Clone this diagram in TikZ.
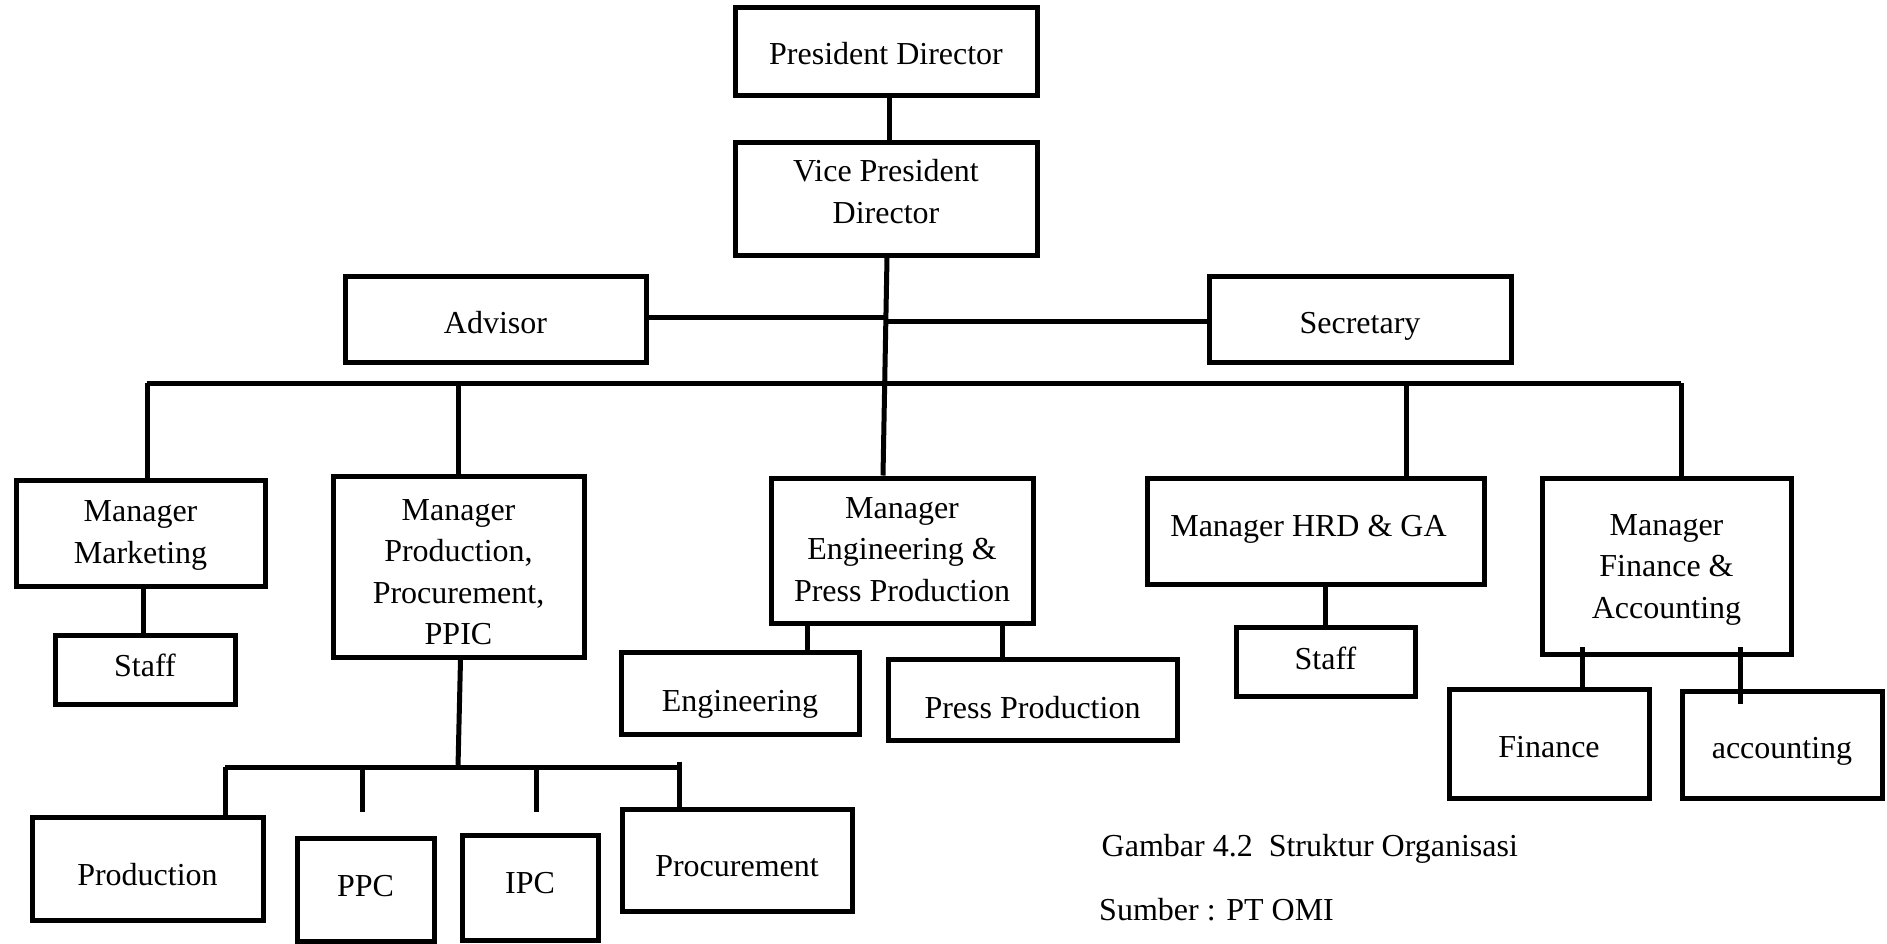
\documentclass[tikz,border=0pt]{standalone}
\usepackage{fontspec}
\setmainfont{Liberation Serif}
\newcommand{\tx}[2]{\raisebox{-#1pt}[\height][\depth]{\begin{tabular}{@{}c@{}}#2\end{tabular}}}
\begin{document}
\begin{tikzpicture}[x=1pt,y=-1pt,
  box/.style={draw=black, line width=5pt, rectangle, inner sep=0pt,
    font=\fontsize{32}{41.5}\selectfont},
  conn/.style={line width=5pt, draw=black},
  captxt/.style={anchor=base west, inner sep=0pt, font=\fontsize{32}{41.5}\selectfont}]
\useasboundingbox (0,0) rectangle (1887,943);

% nodes
\node[box, minimum width=302, minimum height=88] (pd) at (886,51) {\tx{5}{President Director}};
\node[box, minimum width=302, minimum height=113] (vp) at (886,198.5) {\tx{-4.3}{Vice President\\Director}};
\node[box, minimum width=301, minimum height=86] (adv) at (495.5,319) {\tx{6}{Advisor}};
\node[box, minimum width=302, minimum height=86] (sec) at (1360,319) {\tx{6}{Secretary}};

\node[box, minimum width=249, minimum height=106] (mm) at (140.5,533) {\tx{1}{Manager\\Marketing}};
\node[box, minimum width=251, minimum height=181] (mp) at (458.5,566.5) {\tx{7.5}{Manager\\Production,\\Procurement,\\PPIC}};
\node[box, minimum width=262, minimum height=145] (me) at (902,550.5) {\tx{1}{Manager\\Engineering \&\\Press Production}};
\node[box, minimum width=337, minimum height=106] (mh) at (1315.5,531) {\tx{-3}{\hspace*{-14pt}Manager HRD \& GA}};
\node[box, minimum width=249, minimum height=176] (mf) at (1666.5,566) {\tx{2.2}{Manager\\Finance \&\\Accounting}};

\node[box, minimum width=180, minimum height=69] (st1) at (145,669.5) {\tx{-1}{Staff}};
\node[box, minimum width=179, minimum height=69] (st2) at (1325.5,661.5) {\tx{-0.5}{Staff}};
\node[box, minimum width=238, minimum height=82] (eng) at (740,693) {\tx{10.5}{Engineering}};
\node[box, minimum width=289, minimum height=81] (pp) at (1032.5,699.5) {\tx{11}{Press Production}};
\node[box, minimum width=200, minimum height=109] (fin) at (1549,743.5) {\tx{6}{Finance}};
\node[box, minimum width=200, minimum height=107] (acc) at (1782,744.5) {\tx{5.5}{accounting}};

\node[box, minimum width=231, minimum height=103] (prod) at (147.5,868.5) {\tx{8.5}{Production}};
\node[box, minimum width=137, minimum height=103] (ppc) at (365.5,889.5) {\tx{-1}{PPC}};
\node[box, minimum width=136, minimum height=105] (ipc) at (530,887.5) {\tx{-2.5}{IPC}};
\node[box, minimum width=230, minimum height=102] (proc) at (737,860) {\tx{8.5}{Procurement}};

\node[captxt] (c1) at (1101.5,856.7) {Gambar 4.2\ \ Struktur Organisasi};
\node[captxt] (c2) at (1099,920) {Sumber : PT OMI};

% bus coordinates
\coordinate (busL) at (147,383);
\coordinate (busR) at (1681,383);
\coordinate (sbL) at (225,767);
\coordinate (sbR) at (680,767);

% connectors
\draw[conn] ([xshift=3]pd.south) -- ([xshift=3]vp.north);
\draw[conn] ([xshift=1]vp.south) -- ([xshift=-3]vp.south |- me.north);
\draw[conn] ([yshift=2]adv.east) -- ([yshift=2]adv.east -| vp.south);
\draw[conn] ([yshift=-2]sec.west) -- ([yshift=-2]sec.west -| vp.south);
\draw[conn] (busL) -- (busR);
\draw[conn] (busL) -- (busL |- mm.north);
\draw[conn] (busL -| mp.north) -- (mp.north);
\draw[conn] (busL -| 1406,0) -- (1406,0 |- mh.north);
\draw[conn] (busR) -- (busR |- mf.north);

\draw[conn] (143,0 |- mm.south) -- (143,0 |- st1.north);
\draw[conn] (1325,0 |- mh.south) -- (1325,0 |- st2.north);
\draw[conn] (807,0 |- me.south) -- (807,0 |- eng.north);
\draw[conn] (1002,0 |- me.south) -- (1002,0 |- pp.north);
\draw[conn] (1582,647) -- (1582,0 |- fin.north);
\draw[conn] (1740,647) -- (1740,704);

\draw[conn] ([xshift=2]mp.south) -- (458,767);
\draw[conn] (sbL) -- (sbR);
\draw[conn] (sbL) -- (sbL |- prod.north);
\draw[conn] (362,767) -- (362,812);
\draw[conn] (536,767) -- (536,812);
\draw[conn] (679,762) -- (679,0 |- proc.north);
\end{tikzpicture}
\end{document}
